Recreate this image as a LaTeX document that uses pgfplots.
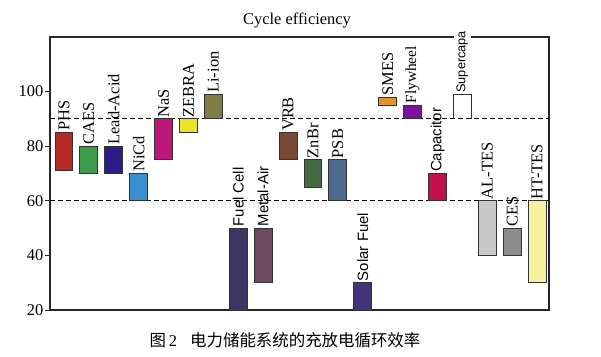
\documentclass[border=0pt]{standalone}
\usepackage{pgfplots}
\pgfplotsset{compat=1.18}
\usepackage{fontspec}
\setmainfont{Liberation Serif}
\newfontfamily\sansf{Liberation Sans}
\newfontfamily\cjk{Noto Sans CJK SC}
\definecolor{cPHS}{HTML}{B52A25}
\definecolor{cCAES}{HTML}{3D9A4A}
\definecolor{cLA}{HTML}{2B1D85}
\definecolor{cNiCd}{HTML}{3B8FD1}
\definecolor{cNaS}{HTML}{C0177C}
\definecolor{cZEBRA}{HTML}{EEE12A}
\definecolor{cLi}{HTML}{7F7C45}
\definecolor{cFC}{HTML}{3C3660}
\definecolor{cMA}{HTML}{6E4A62}
\definecolor{cVRB}{HTML}{7A4A38}
\definecolor{cZnBr}{HTML}{456B45}
\definecolor{cPSB}{HTML}{4E6A8C}
\definecolor{cSF}{HTML}{433479}
\definecolor{cSMES}{HTML}{E0942E}
\definecolor{cFly}{HTML}{7A12A0}
\definecolor{cCap}{HTML}{C21048}
\definecolor{cAL}{HTML}{C8C8C8}
\definecolor{cCES}{HTML}{8C8C8C}
\definecolor{cHT}{HTML}{F7F09C}
\newcommand{\serlab}{\fontsize{16.5}{18}\selectfont}
\newcommand{\sanlab}{\sansf\fontsize{15}{16}\selectfont}
% floating bar: x, low, high, colour, label font, label
\newcommand{\fbar}[6]{%
  \pgfmathsetmacro\xl{#1-0.36}\pgfmathsetmacro\xr{#1+0.36}%
  \addplot[fill=#4, draw=black!80, line width=0.9bp] coordinates {(\xl,#2) (\xr,#2) (\xr,#3) (\xl,#3)} -- cycle;
  \node[rotate=90, anchor=west, inner sep=1.5bp, font=#5] at (axis cs:#1,#3) {#6};
}
\begin{document}
\begin{tikzpicture}
\useasboundingbox (-50bp,-47bp) rectangle (551bp,310bp);
\begin{axis}[
  scale only axis,
  width=499bp, height=273bp,
  xmin=-0.56, xmax=19.48,
  ymin=20, ymax=120,
  xtick=\empty,
  ytick={20,40,60,80,100},
  ytick pos=left,
  tick align=outside,
  major tick length=5bp,
  tick style={line width=1bp, black!85},
  axis line style={line width=1.3bp, black!85},
  yticklabel style={font=\fontsize{16.5}{18}\selectfont, inner sep=1.5bp},
  /pgf/number format/assume math mode=true,
  clip=false,
]
\addplot[black, line width=1.2bp, dash pattern=on 4.5bp off 3.5bp] coordinates {(-0.56,90) (19.48,90)};
\addplot[black, line width=1.2bp, dash pattern=on 4.5bp off 3.5bp] coordinates {(-0.56,60) (19.48,60)};
\fbar{0}{71}{85}{cPHS}{\serlab}{PHS}
\fbar{1}{70}{80}{cCAES}{\serlab}{CAES}
\fbar{2}{70}{80}{cLA}{\serlab}{Lead-Acid}
\fbar{3}{60}{70}{cNiCd}{\serlab}{NiCd}
\fbar{4}{75}{90}{cNaS}{\serlab}{NaS}
\fbar{5}{85}{90}{cZEBRA}{\serlab}{ZEBRA}
\fbar{6}{90}{99}{cLi}{\serlab}{Li-ion}
\fbar{7}{20}{50}{cFC}{\sanlab}{Fuel Cell}
\fbar{8}{30}{50}{cMA}{\sanlab}{Metal-Air}
\fbar{9}{75}{85}{cVRB}{\serlab}{VRB}
\fbar{10}{65}{75}{cZnBr}{\serlab}{ZnBr}
\fbar{11}{60}{75}{cPSB}{\serlab}{PSB}
\fbar{12}{20}{30}{cSF}{\sanlab}{Solar Fuel}
\fbar{13}{95}{98}{cSMES}{\serlab}{SMES}
\fbar{14}{90}{95}{cFly}{\fontsize{15.5}{17}\selectfont}{Flywheel}
\fbar{15}{60}{70}{cCap}{\sanlab}{Capacitor}
\addplot[draw=black!80, line width=0.9bp] coordinates {(15.64,90) (15.64,99) (16.36,99) (16.36,90)};
\coordinate (sctop) at (axis cs:16,99);
\fbar{17}{40}{60}{cAL}{\serlab}{AL-TES}
\fbar{18}{40}{50}{cCES}{\serlab}{CES}
\fbar{19}{30}{60}{cHT}{\serlab}{HT-TES}
\end{axis}
\node[rotate=90, anchor=west, fill=white, inner xsep=1.5bp, inner ysep=3bp, font=\sansf\fontsize{12.8}{14}\selectfont] at (sctop) {Supercapa};
\node[font=\fontsize{16.5}{18}\selectfont] at (247bp,290bp) {Cycle efficiency};
\node[font=\fontsize{16.5}{18}\selectfont] at (235bp,-30bp) {{\cjk 图}\,2\hspace{0.8em}{\cjk 电力储能系统的充放电循环效率}};
\end{tikzpicture}
\end{document}
